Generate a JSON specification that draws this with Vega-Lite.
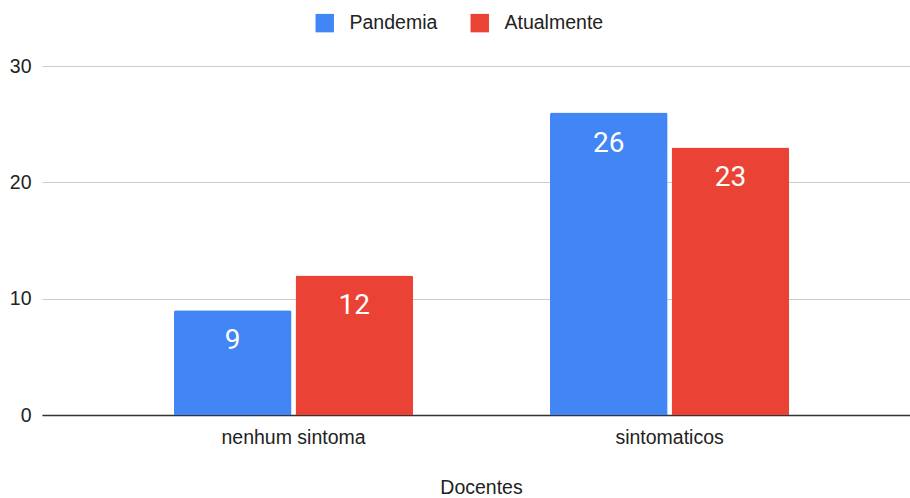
{
  "$schema": "https://vega.github.io/schema/vega-lite/v6.json",
  "autosize": {"type": "none"},
  "width": 868,
  "height": 349,
  "padding": {"top": 66, "left": 42, "right": 0, "bottom": 83},
  "background": "white",
  "config": {
    "view": {"stroke": null},
    "font": "Liberation Sans",
    "axis": {"labelFont": "Liberation Sans", "labelFontSize": 19.5, "labelColor": "#222222", "titleFont": "Liberation Sans", "titleFontSize": 19.5, "titleFontWeight": "normal", "titleColor": "#222222"},
    "legend": {"labelFont": "Liberation Sans", "labelFontSize": 19.5, "labelColor": "#222222"}
  },
  "data": {
    "values": [
      {"categoria": "nenhum sintoma", "serie": "Pandemia", "valor": 9},
      {"categoria": "nenhum sintoma", "serie": "Atualmente", "valor": 12},
      {"categoria": "sintomaticos", "serie": "Pandemia", "valor": 26},
      {"categoria": "sintomaticos", "serie": "Atualmente", "valor": 23}
    ]
  },
  "encoding": {
    "x": {
      "field": "categoria",
      "type": "nominal",
      "scale": {"paddingInner": 0.364, "paddingOuter": 0.336, "align": 0.522},
      "axis": {"title": "Docentes", "labelAngle": 0, "tickSize": 0, "labelPadding": 13, "titlePadding": 32, "titleX": 439, "titleAnchor": null, "domainColor": "#333333", "domainWidth": 1.5, "grid": false}
    },
    "xOffset": {
      "field": "serie",
      "type": "nominal",
      "sort": ["Pandemia", "Atualmente"],
      "scale": {"paddingInner": 0.033, "paddingOuter": 0}
    },
    "y": {
      "field": "valor",
      "type": "quantitative",
      "scale": {"domain": [0, 30], "nice": false},
      "axis": {"title": null, "values": [0, 10, 20, 30], "tickSize": 0, "labelPadding": 11, "domain": false, "gridColor": "#cccccc", "gridWidth": 1}
    }
  },
  "layer": [
    {
      "mark": {"type": "bar", "cornerRadiusTopLeft": 2, "cornerRadiusTopRight": 2},
      "encoding": {
        "color": {
          "field": "serie",
          "type": "nominal",
          "sort": ["Pandemia", "Atualmente"],
          "scale": {"domain": ["Pandemia", "Atualmente"], "range": ["#4285F4", "#EA4335"]},
          "legend": {
            "title": null,
            "orient": "none",
            "direction": "horizontal",
            "legendX": 273,
            "legendY": -53,
            "padding": 0,
            "symbolType": "square",
            "symbolSize": 340,
            "symbolStrokeWidth": 0,
            "symbolOpacity": 1,
            "labelOffset": 15,
            "columnPadding": 32
          }
        }
      }
    },
    {
      "mark": {"type": "text", "font": "Roboto", "fontSize": 28, "color": "white", "baseline": "alphabetic", "dy": 39},
      "encoding": {
        "text": {"field": "valor", "type": "quantitative"}
      }
    }
  ]
}
